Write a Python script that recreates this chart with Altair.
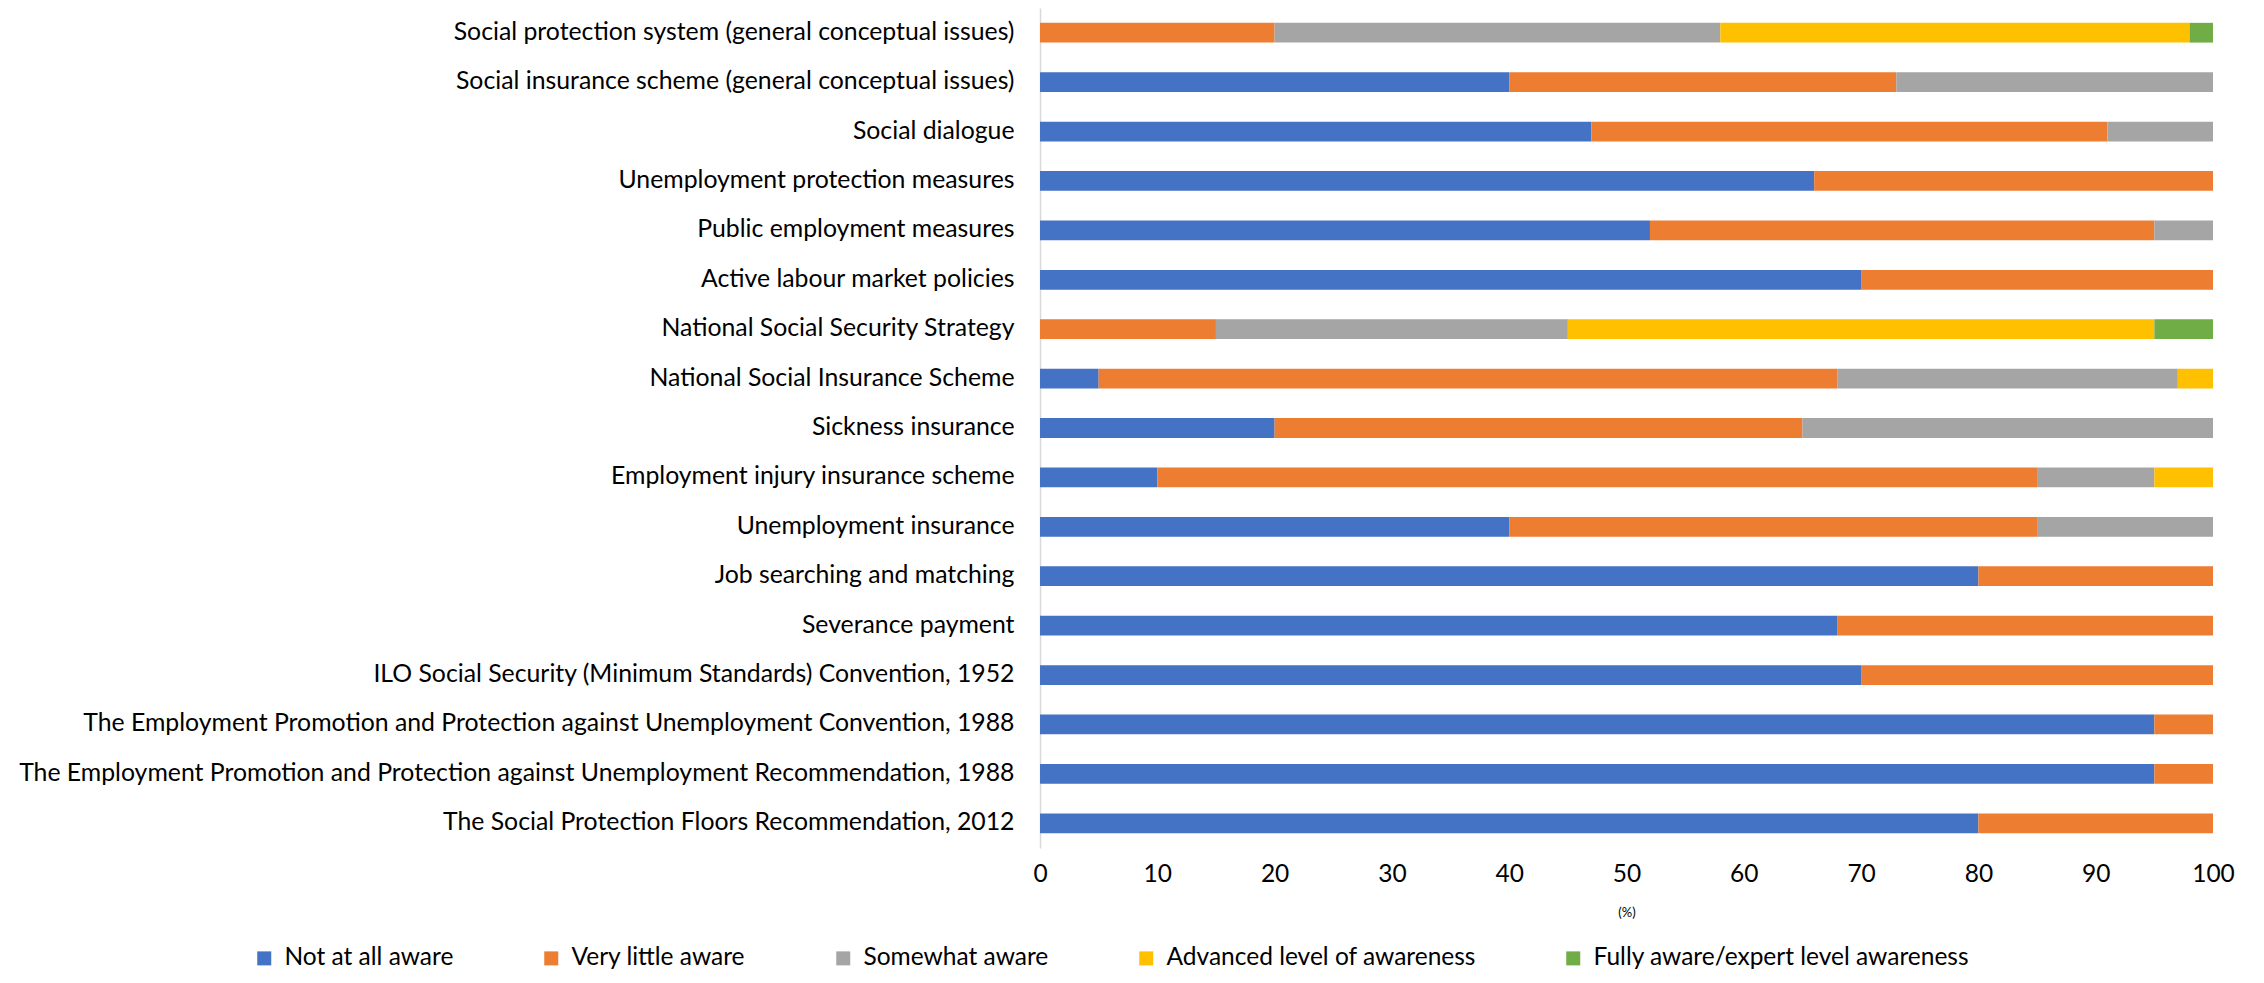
import altair as alt
import pandas as pd

categories = [
    "Social protection system (general conceptual issues)",
    "Social insurance scheme (general conceptual issues)",
    "Social dialogue ",
    "Unemployment protection measures ",
    "Public employment measures",
    "Active labour market policies",
    "National Social Security Strategy",
    "National Social Insurance Scheme",
    "Sickness insurance",
    "Employment injury insurance scheme",
    "Unemployment insurance",
    "Job searching and matching ",
    "Severance payment ",
    "ILO Social Security (Minimum Standards) Convention, 1952",
    "The Employment Promotion and Protection against Unemployment Convention, 1988",
    "The Employment Promotion and Protection against Unemployment Recommendation, 1988",
    "The Social Protection Floors Recommendation, 2012",
]

series_names = [
    "Not at all aware",
    "Very little aware",
    "Somewhat aware",
    "Advanced level of awareness",
    "Fully aware/expert level awareness",
]

not_at_all = [0, 40, 47, 66, 52, 70, 0, 5, 20, 10, 40, 80, 68, 70, 95, 95, 80]
very_little = [20, 33, 44, 34, 43, 30, 15, 63, 45, 75, 45, 20, 32, 30, 5, 5, 20]
somewhat = [38, 27, 9, 0, 5, 0, 30, 29, 35, 10, 15, 0, 0, 0, 0, 0, 0]
advanced = [40, 0, 0, 0, 0, 0, 50, 3, 0, 5, 0, 0, 0, 0, 0, 0, 0]
fully = [2, 0, 0, 0, 0, 0, 5, 0, 0, 0, 0, 0, 0, 0, 0, 0, 0]

colors = ["#4472C4", "#ED7D31", "#A5A5A5", "#FFC000", "#70AD47"]
x_ticks = [0, 10, 20, 30, 40, 50, 60, 70, 80, 90, 100]

rows = []
for si, (name, vals) in enumerate(zip(series_names, [not_at_all, very_little, somewhat, advanced, fully])):
    for cat, v in zip(categories, vals):
        if v > 0:
            rows.append({"category": cat, "series": name, "value": v, "order": si})
df = pd.DataFrame(rows)

FONT = "Lato"
FS = 24.8

chart = alt.Chart(df).mark_bar().encode(
    y=alt.Y(
        "category:N",
        sort=categories,
        scale=alt.Scale(paddingInner=0.6, paddingOuter=0.3),
        axis=alt.Axis(
            title=None,
            ticks=False,
            labelPadding=26,
            labelFontSize=FS,
            labelFont=FONT,
            labelColor="#000000",
            labelLimit=0,
            domainColor="#D9D9D9",
            domainWidth=1.5,
            grid=False,
        ),
    ),
    x=alt.X(
        "value:Q",
        stack="zero",
        scale=alt.Scale(domain=[0, 100], nice=False),
        axis=alt.Axis(
            title="(%)",
            values=x_ticks,
            ticks=False,
            domain=False,
            grid=False,
            labelFlush=False,
            labelPadding=14,
            labelFontSize=24.5,
            labelFont=FONT,
            labelColor="#000000",
            titleFont=FONT,
            titleFontSize=13,
            titleFontWeight="normal",
            titleColor="#000000",
            titlePadding=21,
        ),
    ),
    color=alt.Color(
        "series:N",
        sort=series_names,
        scale=alt.Scale(domain=series_names, range=colors),
        legend=alt.Legend(
            title=None,
            orient="none",
            legendX=-788,
            legendY=938,
            direction="horizontal",
            columns=5,
            symbolType="square",
            symbolSize=196,
            symbolStrokeWidth=0,
            labelFontSize=24.5,
            labelFont=FONT,
            labelColor="#000000",
            labelLimit=0,
            columnPadding=85,
            labelOffset=8,
        ),
    ),
    order=alt.Order("order:Q", sort="ascending"),
).properties(
    width=1173,
    height=840,
    autosize=alt.AutoSizeParams(type="none"),
    padding={"left": 1032, "top": 0, "right": 30, "bottom": 127},
).configure_view(stroke=None)

chart.save("out.html", embed_options={"renderer": "svg", "actions": False})
